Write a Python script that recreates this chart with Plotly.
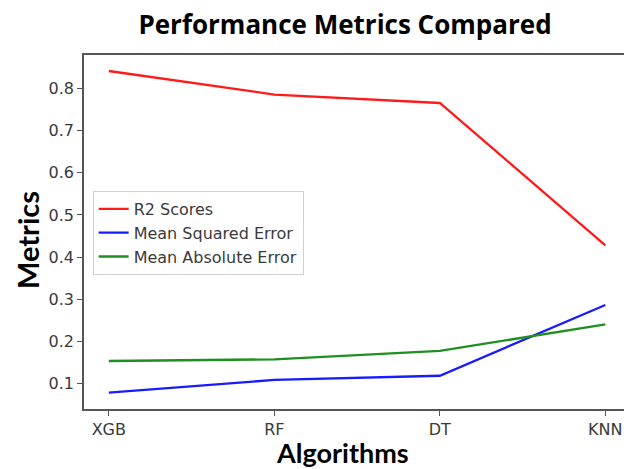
import plotly.graph_objects as go

# Algorithms compared and their evaluation metrics
algorithms = ["XGB", "RF", "DT", "KNN"]
r2_scores = [0.842, 0.786, 0.766, 0.428]
mse_values = [0.078, 0.108, 0.118, 0.286]
mae_values = [0.153, 0.157, 0.177, 0.240]
y_ticks = [0.1, 0.2, 0.3, 0.4, 0.5, 0.6, 0.7, 0.8]

W, H = 624, 469
L, R, T, B = 84, 0, 55, 60

series = [
    ("R2 Scores", r2_scores, "#ff1a1a"),
    ("Mean Squared Error", mse_values, "#1a1aff"),
    ("Mean Absolute Error", mae_values, "#1f8f1f"),
]

fig = go.Figure()
x_idx = list(range(len(algorithms)))
for i, (name, vals, color) in enumerate(series):
    fig.add_trace(go.Scatter(
        x=x_idx, y=vals, mode="lines", name=name,
        line=dict(color=color, width=2.3),
        legendgroup=f"g{i}",
    ))

tick_font = dict(family="DejaVu Sans", size=16, color="#3a3a3a")

plot_w = W - L - R
plot_h = H - T - B

fig.update_layout(
    width=W, height=H,
    margin=dict(l=L, r=R, t=T, b=B, pad=0),
    paper_bgcolor="white", plot_bgcolor="white",
    showlegend=True,
    legend=dict(
        x=0.016, y=(H - B - 191) / plot_h, xanchor="left", yanchor="top",
        bgcolor="rgba(255,255,255,0.8)", bordercolor="#d0d0d0", borderwidth=1,
        font=dict(family="DejaVu Sans", size=16, color="#3a3a3a"),
        tracegroupgap=0,
    ),
    title=dict(
        text="<b>Performance Metrics Compared</b>",
        x=345 / W, xanchor="center",
        y=1 - 25 / H, yanchor="middle", yref="container",
        font=dict(family="Open Sans", size=26, color="black"),
    ),
    xaxis=dict(
        range=[-0.15, -0.15 + (W - L) / 165.5],
        tickmode="array", tickvals=x_idx, ticktext=algorithms,
        showgrid=False, zeroline=False,
        showline=True, linecolor="#555555", linewidth=1.5, mirror=True,
        ticks="outside", ticklen=5, tickcolor="#555555", tickwidth=1.2,
        tickfont=tick_font,
    ),
    yaxis=dict(
        range=[0.039, 0.880],
        tickmode="array", tickvals=y_ticks,
        ticktext=[f"{v:.1f}" for v in y_ticks],
        showgrid=False, zeroline=False,
        showline=True, linecolor="#555555", linewidth=1.5, mirror=False,
        ticks="outside", ticklen=5, tickcolor="#555555", tickwidth=1.2,
        tickfont=tick_font,
    ),
)

fig.add_annotation(
    text="<b>Algorithms</b>", showarrow=False,
    xref="paper", yref="paper",
    x=(342 - L) / plot_w, y=(H - B - 452) / plot_h,
    xanchor="center", yanchor="middle",
    font=dict(family="Lato", size=27, color="black"),
)
fig.add_annotation(
    text="<b>Metrics</b>", showarrow=False, textangle=-90,
    xref="paper", yref="paper",
    x=(27 - L) / plot_w, y=(H - B - 240) / plot_h,
    xanchor="center", yanchor="middle",
    font=dict(family="Lato", size=29, color="black"),
)

fig.write_html("out.html")
